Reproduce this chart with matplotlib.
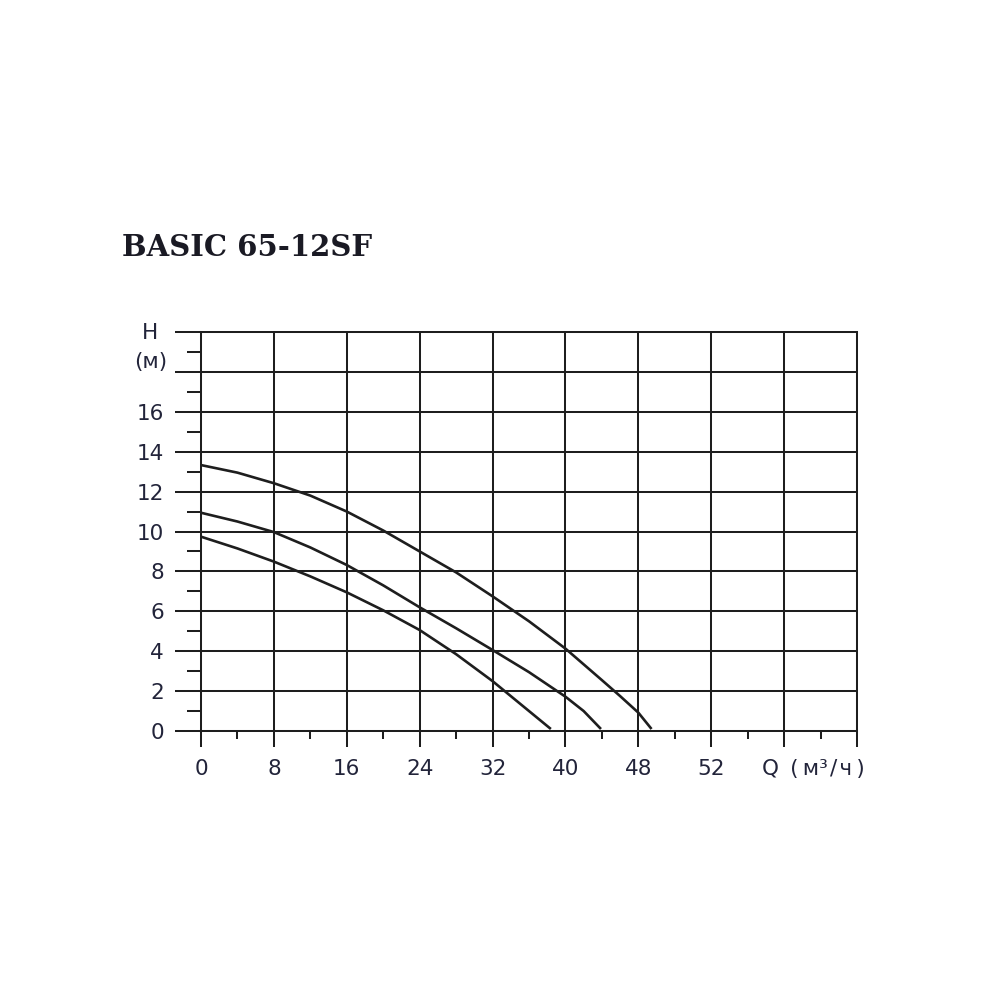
import numpy as np
import matplotlib
matplotlib.use("Agg")
import matplotlib.pyplot as plt
from matplotlib.ticker import MultipleLocator

# pump curves (Q in m3/h, H in m)
q_high = [0, 4, 8, 12, 16, 20, 24, 28, 32, 36, 40, 44, 46, 48, 49.45]
h_high = [13.33, 12.95, 12.42, 11.8, 11.0, 10.05, 9.0, 7.95, 6.75, 5.5, 4.13, 2.55, 1.75, 0.92, 0.1]

q_mid = [0, 4, 8, 12, 16, 20, 24, 28, 32, 36, 40, 42, 43.9]
h_mid = [10.94, 10.5, 9.97, 9.2, 8.32, 7.3, 6.2, 5.15, 4.06, 2.95, 1.72, 1.0, 0.1]

q_low = [0, 4, 8, 12, 16, 20, 24, 28, 32, 34, 36, 38.4]
h_low = [9.74, 9.15, 8.49, 7.75, 6.95, 6.05, 5.06, 3.85, 2.5, 1.75, 1.0, 0.1]

x_ticks = [0, 8, 16, 24, 32, 40, 48, 56, 64, 72]
x_labels = ["0", "8", "16", "24", "32", "40", "48", "52", "", ""]
y_ticks = [0, 2, 4, 6, 8, 10, 12, 14, 16, 18, 20]
y_labels = ["0", "2", "4", "6", "8", "10", "12", "14", "16", "", ""]

ink = "#1e1e1e"
txt = "#22243a"

fig = plt.figure(figsize=(10, 10), dpi=100)
ax = fig.add_axes([0.201, 0.269, 0.656, 0.399])

for q, h in [(q_high, h_high), (q_mid, h_mid), (q_low, h_low)]:
    ax.plot(q, h, color=ink, lw=1.9, solid_capstyle="butt", zorder=3)

ax.set_xlim(0, 72)
ax.set_ylim(0, 20)
ax.set_xticks(x_ticks)
ax.set_xticklabels(x_labels)
ax.set_yticks(y_ticks)
ax.set_yticklabels(y_labels)
ax.xaxis.set_minor_locator(MultipleLocator(4))
ax.yaxis.set_minor_locator(MultipleLocator(1))

ax.grid(True, which="major", color=ink, lw=1.45)
for s in ax.spines.values():
    s.set_color(ink)
    s.set_linewidth(1.45)

ax.tick_params(axis="y", which="major", length=18.7, width=1.45, color=ink,
               pad=8, labelsize=15.5, labelcolor=txt)
ax.tick_params(axis="y", which="minor", length=10, width=1.45, color=ink)
ax.tick_params(axis="x", which="major", length=11.5, width=1.45, color=ink,
               pad=9, labelsize=15.5, labelcolor=txt)
ax.tick_params(axis="x", which="minor", length=5.8, width=1.45, color=ink)

ax.text(-5.6, 19.95, "H", ha="center", va="center", fontsize=15.5, color=txt, clip_on=False)
ax.text(-5.5, 18.5, "(м)", ha="center", va="center", fontsize=15.5, color=txt, clip_on=False)
ax.text(67.2, -1.9, "Q\u2009 (\u2009м³\u200a/\u200aч\u2009)", ha="center", va="center",
        fontsize=15.5, color=txt, clip_on=False)

fig.text(0.122, 0.753, "BASIC 65-12SF", ha="left", va="center", fontsize=21,
         fontweight="bold", family="DejaVu Serif", color="#1a1a24")

fig.savefig("out.png", dpi=100, facecolor="white")
